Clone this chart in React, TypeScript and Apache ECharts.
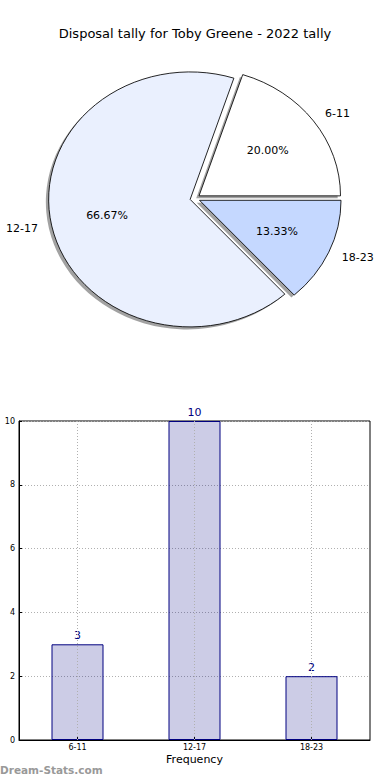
import React, { useEffect, useRef } from "react";
import * as echarts from "echarts";

const categories = ["6-11", "12-17", "18-23"];
const counts = [3, 10, 2];
const yTicks = [0, 2, 4, 6, 8, 10];
const pieColors = ["#ffffff", "#eaf0fe", "#c5d8ff"];
const titleText = "Disposal tally for Toby Greene - 2022 tally";

const FONT = "DejaVu Sans";

export default function App() {
  const ref = useRef<HTMLDivElement>(null);
  useEffect(() => {
    if (!ref.current) return;
    const chart = echarts.init(ref.current, undefined, { renderer: "svg" });
    const total = counts.reduce((a, b) => a + b, 0);
    const cx = 195;
    const cy = 198.5;
    const rx = 141.5;
    const ry = 127.5;
    const explode = 0.035;
    const s = ry / rx;

    const renderPie = (params: any, api: any) => {
      const i = params.dataIndex;
      const v = api.value(1);
      let before = 0;
      for (let k = 0; k < i; k++) before += counts[k];
      const t1 = (before / total) * Math.PI * 2;
      const t2 = ((before + v) / total) * Math.PI * 2;
      const tm = (t1 + t2) / 2;
      const ox = explode * rx * Math.cos(tm);
      const oy = -explode * ry * Math.sin(tm);
      const ax = cx + ox;
      const ay = cy + oy;
      const sectorShape = { cx, cy, r: rx, r0: 0, startAngle: -t2, endAngle: -t1, clockwise: true };
      const pctX = ax + 0.6 * rx * Math.cos(tm);
      const pctY = ay - 0.6 * ry * Math.sin(tm);
      const labX = ax + 1.1 * rx * Math.cos(tm);
      const labY = ay - 1.1 * ry * Math.sin(tm);
      return {
        type: "group",
        children: [
          {
            type: "group",
            x: ox - 2.8,
            y: oy + 2.5,
            scaleX: 1,
            scaleY: s,
            originX: cx,
            originY: cy,
            children: [
              { type: "sector", shape: sectorShape, style: { fill: "rgba(70,70,70,0.5)", stroke: "none" } },
            ],
          },
          {
            type: "group",
            x: ox,
            y: oy,
            scaleX: 1,
            scaleY: s,
            originX: cx,
            originY: cy,
            children: [
              {
                type: "sector",
                shape: sectorShape,
                style: { fill: pieColors[i], stroke: "#000", lineWidth: 0.9, strokeNoScale: true },
              },
            ],
          },
          {
            type: "text",
            style: {
              text: ((v / total) * 100).toFixed(2) + "%",
              x: pctX,
              y: pctY,
              align: "center",
              verticalAlign: "middle",
              fill: "#000",
              fontSize: 11,
              fontFamily: FONT,
            },
          },
          {
            type: "text",
            style: {
              text: categories[i],
              x: labX,
              y: labY,
              align: Math.cos(tm) > 0 ? "left" : "right",
              verticalAlign: "middle",
              fill: "#000",
              fontSize: 11,
              fontFamily: FONT,
            },
          },
        ],
      };
    };

    chart.setOption({
      animation: false,
      title: {
        text: titleText,
        left: "center",
        top: 22,
        textStyle: { fontSize: 13, fontWeight: "normal", fontFamily: FONT, color: "#000" },
      },
      grid: {
        left: 19,
        right: 20,
        top: 421,
        bottom: 40,
        outerBoundsMode: "none",
        containLabel: false,
        show: true,
        borderColor: "#000",
        borderWidth: 1,
        backgroundColor: "transparent",
      },
      xAxis: {
        type: "category",
        data: categories,
        boundaryGap: true,
        name: "Frequency",
        nameLocation: "middle",
        nameGap: 14,
        nameTextStyle: { fontSize: 11, fontFamily: FONT, color: "#000", verticalAlign: "top" },
        axisLine: { lineStyle: { color: "#000", width: 1 } },
        axisTick: { show: true, inside: true, alignWithLabel: true, length: 3, lineStyle: { color: "#000" } },
        axisLabel: { fontSize: 8, fontFamily: FONT, color: "#000", margin: 3 },
        splitLine: { show: false },
      },
      yAxis: {
        type: "value",
        min: yTicks[0],
        max: yTicks[yTicks.length - 1],
        interval: yTicks[1] - yTicks[0],
        name: "Disposal Count",
        nameLocation: "middle",
        nameGap: 18,
        nameTextStyle: { fontSize: 10, fontFamily: FONT, color: "#000" },
        axisLine: { show: true, lineStyle: { color: "#000", width: 1 } },
        axisTick: { show: true, inside: true, length: 3, lineStyle: { color: "#000" } },
        axisLabel: { fontSize: 8, fontFamily: FONT, color: "#000", margin: 4 },
        splitLine: { show: true, lineStyle: { color: "#b0b0b0", type: [1, 2], width: 1 } },
      },
      graphic: [
        {
          type: "text",
          left: 0,
          top: 764,
          style: {
            text: "Dream-Stats.com",
            fill: "#999999",
            fontSize: 10.5,
            fontWeight: "bold",
            fontFamily: FONT,
          },
        },
      ],
      series: [
        {
          type: "custom",
          coordinateSystem: "none",
          data: counts.map((v, i) => [i, v]),
          renderItem: renderPie,
          silent: true,
        },
        {
          type: "bar",
          data: counts,
          barWidth: 52,
          itemStyle: { color: "rgba(0,0,128,0.2)", borderColor: "#000080", borderWidth: 1 },
          label: {
            show: true,
            position: "top",
            distance: 3,
            color: "#000080",
            fontSize: 11,
            fontFamily: FONT,
          },
          markLine: {
            silent: true,
            symbol: "none",
            label: { show: false },
            lineStyle: { color: "#b0b0b0", type: [1, 2], width: 1 },
            data: categories.map((c) => ({ xAxis: c })),
          },
        },
      ],
    });
    return () => chart.dispose();
  }, []);
  return <div ref={ref} style={{ position: "absolute", left: 0, top: 0, width: 390, height: 780 }} />;
}
